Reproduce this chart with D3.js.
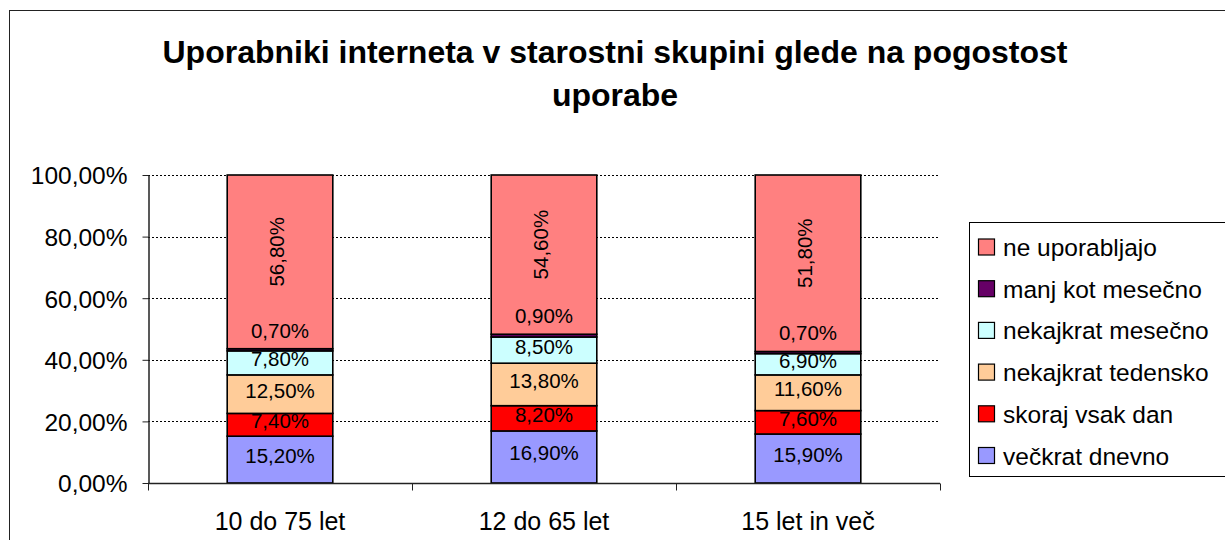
<!DOCTYPE html>
<html>
<head>
<meta charset="utf-8">
<script src="https://cdn.jsdelivr.net/npm/d3@7"></script>
<style>
  html, body { margin: 0; padding: 0; background: #fff; }
  svg { display: block; font-family: Arial, "Liberation Sans", sans-serif; }
</style>
</head>
<body>
<svg id="chart" width="1225" height="540"></svg>
<script>
// ---- data ----
const categories = ["10 do 75 let", "12 do 65 let", "15 let in več"];
const seriesNames = ["večkrat dnevno", "skoraj vsak dan", "nekajkrat tedensko", "nekajkrat mesečno", "manj kot mesečno", "ne uporabljajo"];
const veckratDnevno    = [15.2, 16.9, 15.9];
const skorajVsakDan    = [7.4, 8.2, 7.6];
const tedensko         = [12.5, 13.8, 11.6];
const mesecno          = [7.8, 8.5, 6.9];
const manjKotMesecno   = [0.7, 0.9, 0.7];
const neUporabljajo    = [56.8, 54.6, 51.8];
const seriesValues = [veckratDnevno, skorajVsakDan, tedensko, mesecno, manjKotMesecno, neUporabljajo];
const seriesColors = ["#9999FF", "#FF0000", "#FFCC99", "#CCFFFF", "#660066", "#FF8080"];
const yTicks = [0, 0.2, 0.4, 0.6, 0.8, 1.0];
const titleLines = ["Uporabniki interneta v starostni skupini glede na pogostost", "uporabe"];

// ---- layout ----
const svg = d3.select("#chart");
const plot = { left: 148, right: 940, top: 175, bottom: 483 };

svg.append("rect").attr("x", 9.5).attr("y", 10.5).attr("width", 1240).attr("height", 560)
  .attr("fill", "#fff").attr("stroke", "#222").attr("stroke-width", 1);

// title
svg.append("g").selectAll("text").data(titleLines).join("text")
  .attr("x", 615).attr("y", (d, i) => 63 + i * 43)
  .attr("text-anchor", "middle").attr("font-weight", "bold").attr("font-size", 32)
  .attr("fill", "#000").text(d => d);

const x = d3.scaleBand().domain(categories).range([plot.left, plot.right])
  .paddingInner(0.6).paddingOuter(0.3);
const y = d3.scaleLinear().domain([0, 1]).range([plot.bottom, plot.top]).clamp(true);

// gridlines
svg.append("g").selectAll("line").data(yTicks.filter(d => d > 0)).join("line")
  .attr("x1", plot.left).attr("x2", plot.right)
  .attr("y1", d => Math.round(y(d)) + 0.5).attr("y2", d => Math.round(y(d)) + 0.5)
  .attr("stroke", "#000").attr("stroke-width", 1).attr("stroke-dasharray", "2,2");

// stacked data (shares of 100); the top series ("ne uporabljajo") fills the remainder up to 100 %
const stackData = categories.map((c, i) => {
  const row = { cat: c };
  seriesNames.forEach((s, k) => row[s] = seriesValues[k][i] / 100);
  return row;
});
const layers = d3.stack().keys(seriesNames)(stackData);
const lastK = seriesNames.length - 1;
const segTop = (d, k) => (k === lastK ? 1 : d[1]);

const bars = svg.append("g");
layers.forEach((layer, k) => {
  bars.append("g").selectAll("rect").data(layer).join("rect")
    .attr("x", d => x(d.data.cat))
    .attr("width", x.bandwidth())
    .attr("y", d => y(segTop(d, k)))
    .attr("height", d => y(d[0]) - y(segTop(d, k)))
    .attr("fill", seriesColors[k])
    .attr("stroke", "#000").attr("stroke-width", 1.6);
});

// labels
const fmt = v => v.toFixed(2).replace(".", ",") + "%";
const labels = svg.append("g").attr("font-size", 20.5).attr("fill", "#000");
layers.forEach((layer, k) => {
  layer.forEach((d, i) => {
    const v = seriesValues[k][i];
    const cx = x(d.data.cat) + x.bandwidth() / 2;
    const y0 = y(d[0]), y1 = y(segTop(d, k));
    const h = y0 - y1;
    if (h > 100) {
      const cy = (y0 + y1) / 2 - 10;
      labels.append("text")
        .attr("transform", `translate(${cx + 3.5},${cy}) rotate(-90)`)
        .attr("text-anchor", "middle").text(fmt(v));
    } else if (h < 6) {
      labels.append("text").attr("x", cx).attr("y", y1 - 11)
        .attr("text-anchor", "middle").text(fmt(v));
    } else {
      labels.append("text").attr("x", cx).attr("y", (y0 + y1) / 2 + 3.5)
        .attr("text-anchor", "middle").text(fmt(v));
    }
  });
});

// y axis
const yAxis = svg.append("g").attr("transform", `translate(${plot.left + 0.5},0)`)
  .call(d3.axisLeft(y).tickValues(yTicks)
    .tickFormat(d => (d * 100).toFixed(2).replace(".", ",") + "%")
    .tickSize(6).tickPadding(15).tickSizeOuter(0));
yAxis.select(".domain").attr("stroke", "#222").attr("stroke-width", 1.5);
yAxis.selectAll(".tick line").attr("stroke", "#222");
yAxis.selectAll("text").attr("font-size", 24.5).attr("font-family", "Arial, 'Liberation Sans', sans-serif")
  .attr("fill", "#000").attr("dy", "0.36em");

// x axis
const xAxisG = svg.append("g").attr("transform", `translate(0,${plot.bottom + 0.5})`);
xAxisG.append("line").attr("x1", plot.left).attr("x2", plot.right).attr("stroke", "#222").attr("stroke-width", 1.5);
const boundaries = categories.map(c => x(c) - x.step() * x.paddingInner() / 2).concat([plot.right]);
xAxisG.selectAll("line.tk").data(boundaries).join("line").attr("class", "tk")
  .attr("x1", d => Math.round(d) + 0.5).attr("x2", d => Math.round(d) + 0.5)
  .attr("y1", 0).attr("y2", 7).attr("stroke", "#222");
xAxisG.selectAll("text").data(categories).join("text")
  .attr("x", d => x(d) + x.bandwidth() / 2).attr("y", 46)
  .attr("text-anchor", "middle").attr("font-size", 25).attr("fill", "#000").text(d => d);

// legend
const lg = svg.append("g");
lg.append("rect").attr("x", 969.5).attr("y", 222.5).attr("width", 300).attr("height", 254)
  .attr("fill", "#fff").attr("stroke", "#000").attr("stroke-width", 1);
const legendOrder = seriesNames.map((s, k) => k).reverse();
legendOrder.forEach((k, r) => {
  const cy = 247 + r * 41.7;
  lg.append("rect").attr("x", 978.5).attr("y", cy - 8).attr("width", 16).attr("height", 16)
    .attr("fill", seriesColors[k]).attr("stroke", "#000").attr("stroke-width", 1.2);
  lg.append("text").attr("x", 1003).attr("y", cy + 9).attr("font-size", 24.5)
    .attr("fill", "#000").text(seriesNames[k]);
});
</script>
</body>
</html>
